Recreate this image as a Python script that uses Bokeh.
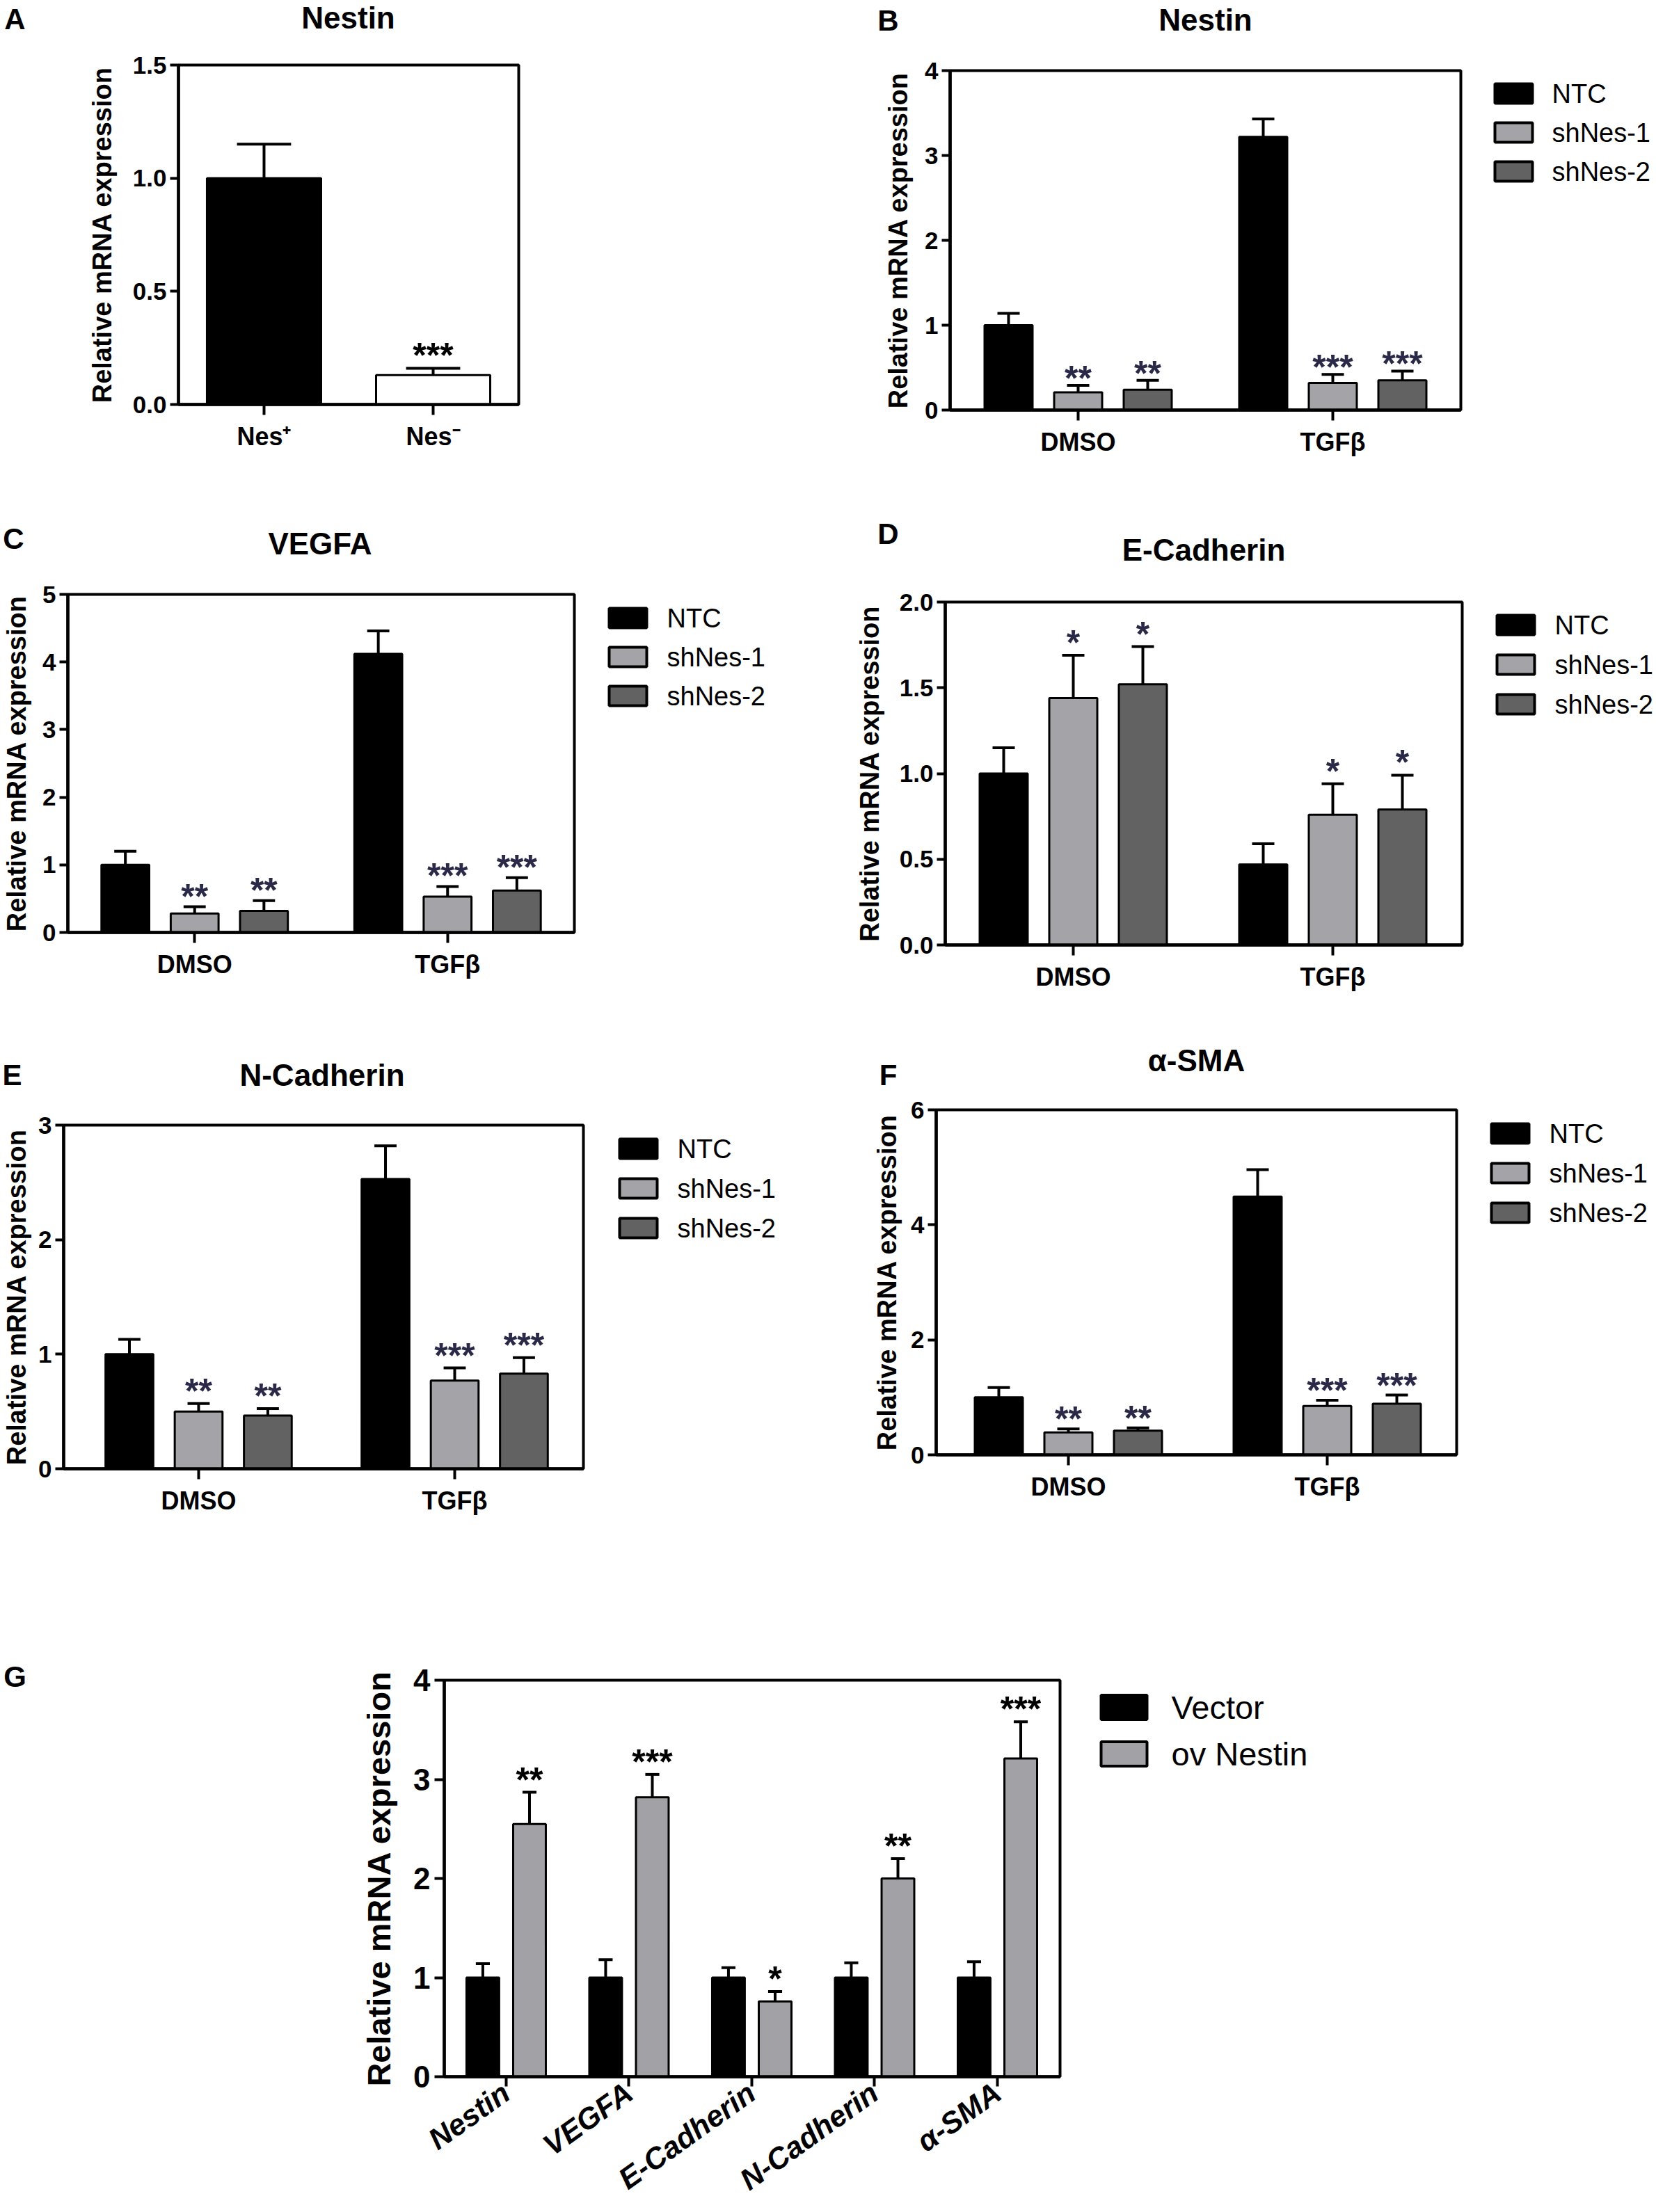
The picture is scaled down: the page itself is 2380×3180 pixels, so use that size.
from bokeh.plotting import figure
from bokeh.models import Range1d, FixedTicker, PrintfTickFormatter
from bokeh.layouts import column, row
from bokeh.embed import file_html
from bokeh.resources import INLINE
from bokeh.core.properties import value

# ------------------------------------------------------------------ data
a_cats = ["Nes\u207a", "Nes\u207b"]
a_vals = [1.00, 0.13]
a_errs = [0.15, 0.03]
a_stars = ["", "***"]

groups = ["DMSO", "TGF\u03b2"]
series_names = ["NTC", "shNes-1", "shNes-2"]

# B  Nestin
b_ntc = [1.00, 3.22]; b_ntc_err = [0.14, 0.21]
b_sh1 = [0.21, 0.32]; b_sh1_err = [0.08, 0.10]
b_sh2 = [0.24, 0.35]; b_sh2_err = [0.11, 0.11]
b_sh1_stars = ["**", "***"]; b_sh2_stars = ["**", "***"]

# C  VEGFA
c_ntc = [1.00, 4.12]; c_ntc_err = [0.20, 0.34]
c_sh1 = [0.28, 0.53]; c_sh1_err = [0.10, 0.15]
c_sh2 = [0.32, 0.62]; c_sh2_err = [0.15, 0.19]
c_sh1_stars = ["**", "***"]; c_sh2_stars = ["**", "***"]

# D  E-Cadherin
d_ntc = [1.00, 0.47]; d_ntc_err = [0.15, 0.12]
d_sh1 = [1.44, 0.76]; d_sh1_err = [0.25, 0.18]
d_sh2 = [1.52, 0.79]; d_sh2_err = [0.22, 0.20]
d_sh1_stars = ["*", "*"]; d_sh2_stars = ["*", "*"]

# E  N-Cadherin
e_ntc = [1.00, 2.53]; e_ntc_err = [0.13, 0.29]
e_sh1 = [0.50, 0.77]; e_sh1_err = [0.07, 0.11]
e_sh2 = [0.465, 0.83]; e_sh2_err = [0.06, 0.14]
e_sh1_stars = ["**", "***"]; e_sh2_stars = ["**", "***"]

# F  alpha-SMA
f_ntc = [1.00, 4.49]; f_ntc_err = [0.17, 0.47]
f_sh1 = [0.39, 0.85]; f_sh1_err = [0.06, 0.10]
f_sh2 = [0.42, 0.89]; f_sh2_err = [0.05, 0.15]
f_sh1_stars = ["**", "***"]; f_sh2_stars = ["**", "***"]

# G  overexpression
g_genes = ["Nestin", "VEGFA", "E-Cadherin", "N-Cadherin", "\u03b1-SMA"]
g_names = ["Vector", "ov Nestin"]
g_vec = [1.00, 1.00, 1.00, 1.00, 1.00]
g_vec_err = [0.14, 0.18, 0.10, 0.15, 0.16]
g_ov = [2.55, 2.82, 0.76, 2.00, 3.21]
g_ov_err = [0.32, 0.23, 0.10, 0.20, 0.37]
g_stars = ["**", "***", "*", "**", "***"]

# ------------------------------------------------------------------ style
FONT = "Liberation Sans"
COLORS3 = ["#000000", "#a4a4a8", "#626262"]
COLORS2 = ["#000000", "#a2a2a6"]
STAR_NAVY = "#2a2a48"
YLABEL = "Relative mRNA expression"
STAR_FS = 50
TICK_FS = 35
LEG_FS = 38


def solo(p):
    # wrap a figure so that Bokeh does not align its frame with its siblings
    return column(p)


def blank_fig(size):
    w, h = size
    p = figure(width=w, height=h, x_range=Range1d(0, w), y_range=Range1d(h, 0),
               output_backend="svg", toolbar_location=None,
               x_axis_type=None, y_axis_type=None, min_border=0)
    p.outline_line_color = None
    p.background_fill_color = "white"
    p.border_fill_color = "white"
    return p


def put_text(p, origin, xref, yref, txt, size, style="bold", align="center"):
    ox, oy = origin
    p.text(x=[xref - ox], y=[yref - oy], text=[txt], text_font=value(FONT),
           text_font_size=f"{size}px", text_font_style=style, text_align=align,
           text_baseline="middle", text_color="black")


def header(origin, size, letter, letter_xy, title=None, title_xy=None):
    p = blank_fig(size)
    put_text(p, origin, letter_xy[0], letter_xy[1], letter, 42)
    if title is not None:
        put_text(p, origin, title_xy[0], title_xy[1], title, 44)
    return p


def legend_fig(origin, size, names, colors, sw_left, row1, pitch, sw_w, sw_h, text_x,
               font_size):
    ox, oy = origin
    p = blank_fig(size)
    n = len(names)
    ys = [row1 - oy + i * pitch for i in range(n)]
    p.rect(x=[sw_left - ox + sw_w / 2] * n, y=ys, width=sw_w, height=sw_h,
           fill_color=colors, line_color="black", line_width=4)
    p.text(x=[text_x - ox] * n, y=ys, text=names, text_font=value(FONT),
           text_font_size=f"{font_size}px", text_align="left", text_baseline="middle",
           text_color="black")
    return p


def base_figure(origin, size, frame, xr, yr):
    ox, oy = origin
    W, H = size
    L, R, T, B = frame
    p = figure(width=W, height=H, x_range=Range1d(*xr), y_range=Range1d(*yr),
               output_backend="svg", toolbar_location=None,
               min_border_left=L - ox, min_border_right=ox + W - R,
               min_border_top=T - oy, min_border_bottom=oy + H - B)
    p.grid.visible = False
    p.outline_line_color = "black"
    p.outline_line_width = 4
    p.background_fill_color = "white"
    p.border_fill_color = "white"
    for ax in (p.xaxis[0], p.yaxis[0]):
        ax.axis_line_width = 4.5
        ax.axis_line_color = "black"
        ax.major_tick_line_width = 4
        ax.major_tick_line_color = "black"
        ax.major_tick_in = 0
        ax.minor_tick_line_color = None
        ax.major_label_text_font = FONT
        ax.major_label_text_font_style = "bold"
        ax.major_label_text_color = "black"
        ax.axis_label_text_font = FONT
        ax.axis_label_text_font_style = "bold"
        ax.axis_label_text_color = "black"
    return p


def y_axis(p, ticks, fmt, tick_size, lab_size, lab_standoff, tick_out=12, standoff=5):
    ax = p.yaxis[0]
    ax.ticker = FixedTicker(ticks=ticks)
    ax.formatter = PrintfTickFormatter(format=fmt)
    ax.major_label_text_font_size = f"{tick_size}px"
    ax.major_tick_out = tick_out
    ax.major_label_standoff = standoff
    ax.axis_label = YLABEL
    ax.axis_label_text_font_size = f"{lab_size}px"
    ax.axis_label_standoff = lab_standoff


def x_axis(p, centers, labels, size, style="bold", orientation="horizontal", tick_out=15,
           standoff=10):
    ax = p.xaxis[0]
    ax.ticker = FixedTicker(ticks=centers)
    ax.major_label_overrides = {c: lab for c, lab in zip(centers, labels)}
    ax.major_label_text_font_size = f"{size}px"
    ax.major_label_text_font_style = style
    ax.major_label_orientation = orientation
    ax.major_tick_out = tick_out
    ax.major_label_standoff = standoff


def error_bars(p, xs, vals, errs, half_cap):
    tops = [v + e for v, e in zip(vals, errs)]
    p.segment(x0=xs, y0=vals, x1=xs, y1=tops, line_color="black", line_width=4)
    p.segment(x0=[x - half_cap for x in xs], y0=tops, x1=[x + half_cap for x in xs], y1=tops,
              line_color="black", line_width=4)
    return tops


def stars(p, xs, tops, texts, gap, color):
    p.text(x=xs, y=tops, text=texts, text_font=value(FONT), text_font_style="bold",
           text_font_size=f"{STAR_FS}px", text_align="center", text_baseline="alphabetic",
           text_color=color, y_offset=-(gap - 15))


def group_panel(origin, size, frame, ticks_px, ymax, yticks, yfmt, series, errs, star_lists,
                ylab_standoff, star_gap):
    L, R, T, B = frame
    t1, t2 = ticks_px
    centers = [0, t2 - t1]
    pitch, bw = 100, 69
    p = base_figure(origin, size, frame, (L - t1, R - t1), (0, ymax))
    for k, (vals, ev, st) in enumerate(zip(series, errs, star_lists)):
        xs = [c + (k - 1) * pitch for c in centers]
        p.vbar(x=xs, top=vals, bottom=0, width=bw, fill_color=COLORS3[k],
               line_color="black", line_width=3)
        tops = error_bars(p, xs, vals, ev, 16)
        if st is not None:
            stars(p, xs, tops, st, star_gap, STAR_NAVY)
    y_axis(p, yticks, yfmt, TICK_FS, 38, ylab_standoff)
    x_axis(p, centers, groups, 36)
    return p


# ------------------------------------------------------------------ row 1 : A, B
hdrA = header((0, 0), (1180, 70), "A", (21, 27), "Nestin", (500, 25))
frameA = (256, 745, 93, 581)
pA = base_figure((0, 70), (1180, 620), frameA, (-0.506, 1.506), (0, 1.5))
a_x = [0, 1]
pA.vbar(x=a_x, top=a_vals, bottom=0, width=0.675, fill_color=["#000000", "#ffffff"],
        line_color="black", line_width=3)
a_tops = error_bars(pA, a_x, a_vals, a_errs, 0.16)
stars(pA, a_x, a_tops, a_stars, 33, "#000000")
y_axis(pA, [0, 0.5, 1.0, 1.5], "%.1f", TICK_FS, 38, 20)
x_axis(pA, a_x, a_cats, 36)

hdrB = header((1180, 0), (1200, 70), "B", (1276, 29), "Nestin", ((1365 + 2099) / 2, 28))
pB = group_panel((1180, 70), (940, 620), (1365, 2099, 101, 589), (1549, 1915),
                 4, [0, 1, 2, 3, 4], "%d",
                 [b_ntc, b_sh1, b_sh2], [b_ntc_err, b_sh1_err, b_sh2_err],
                 [None, b_sh1_stars, b_sh2_stars], 14, 25)
legB = legend_fig((2120, 70), (260, 620), series_names, COLORS3, 2148, 134, 56, 54, 28, 2230,
                  LEG_FS)

# ------------------------------------------------------------------ row 2 : C, D
hdrC = header((0, 690), (1180, 130), "C", (19, 774), "VEGFA", ((94 + 825) / 2, 781))
pC = group_panel((0, 820), (845, 630), (94, 825, 854, 1340), (277, 642),
                 5, [0, 1, 2, 3, 4, 5], "%d",
                 [c_ntc, c_sh1, c_sh2], [c_ntc_err, c_sh1_err, c_sh2_err],
                 [None, c_sh1_stars, c_sh2_stars], 13, 30)
legC = legend_fig((845, 820), (335, 630), series_names, COLORS3, 875, 888, 56, 54, 28, 958,
                  LEG_FS)

hdrD = header((1180, 690), (1200, 130), "D", (1276, 767), "E-Cadherin",
              ((1358 + 2101) / 2, 790))
pD = group_panel((1180, 820), (941, 630), (1358, 2101, 865, 1358), (1542, 1915),
                 2.0, [0, 0.5, 1.0, 1.5, 2.0], "%.1f",
                 [d_ntc, d_sh1, d_sh2], [d_ntc_err, d_sh1_err, d_sh2_err],
                 [None, d_sh1_stars, d_sh2_stars], 19, 33)
legD = legend_fig((2121, 820), (259, 630), series_names, COLORS3, 2151, 898, 57, 54, 28, 2234,
                  LEG_FS)

# ------------------------------------------------------------------ row 3 : E, F
hdrE = header((0, 1450), (1180, 125), "E", (17, 1545), "N-Cadherin", ((87 + 838) / 2, 1545))
pE = group_panel((0, 1575), (858, 715), (87, 838, 1617, 2111), (282, 652),
                 3, [0, 1, 2, 3], "%d",
                 [e_ntc, e_sh1, e_sh2], [e_ntc_err, e_sh1_err, e_sh2_err],
                 [None, e_sh1_stars, e_sh2_stars], 7, 33)
legE = legend_fig((858, 1575), (322, 715), series_names, COLORS3, 890, 1651, 57, 54, 28, 973,
                  LEG_FS)

hdrF = header((1180, 1450), (1200, 125), "F", (1276, 1545), "\u03b1-SMA",
              ((1345 + 2093) / 2, 1524))
pF = group_panel((1180, 1575), (933, 715), (1345, 2093, 1595, 2091), (1535, 1907),
                 6, [0, 2, 4, 6], "%d",
                 [f_ntc, f_sh1, f_sh2], [f_ntc_err, f_sh1_err, f_sh2_err],
                 [None, f_sh1_stars, f_sh2_stars], 10, 29)
legF = legend_fig((2113, 1575), (267, 715), series_names, COLORS3, 2143, 1629, 57, 54, 28, 2226,
                  LEG_FS)

# ------------------------------------------------------------------ row 4 : G
letG = header((0, 2290), (108, 890), "G", (21, 2410))
frameG = (638, 1523, 2415, 3001)
pG = base_figure((108, 2290), (1452, 890), frameG, (-0.504, 4.51), (0, 4))
g_x = list(range(len(g_genes)))
for k, (vals, ev) in enumerate([(g_vec, g_vec_err), (g_ov, g_ov_err)]):
    xs = [c + (k - 0.5) * 0.38 for c in g_x]
    pG.vbar(x=xs, top=vals, bottom=0, width=0.266, fill_color=COLORS2[k],
            line_color="black", line_width=3)
    tops = error_bars(pG, xs, vals, ev, 0.057)
    if k == 1:
        stars(pG, xs, tops, g_stars, 33, "#000000")
y_axis(pG, [0, 1, 2, 3, 4], "%d", 44, 47, 20, tick_out=14, standoff=6)
x_axis(pG, g_x, g_genes, 43, style="bold italic", orientation=0.62, tick_out=14, standoff=4)
legG = legend_fig((1560, 2290), (820, 890), g_names, COLORS2, 1582, 2454, 67, 66, 35, 1683, 47)

layout = column(
    row(column(solo(hdrA), solo(pA)),
        column(solo(hdrB), row(solo(pB), solo(legB)))),
    row(column(solo(hdrC), row(solo(pC), solo(legC))),
        column(solo(hdrD), row(solo(pD), solo(legD)))),
    row(column(solo(hdrE), row(solo(pE), solo(legE))),
        column(solo(hdrF), row(solo(pF), solo(legF)))),
    row(solo(letG), solo(pG), solo(legG)),
)

open("out.html", "w").write(file_html(layout, INLINE))
